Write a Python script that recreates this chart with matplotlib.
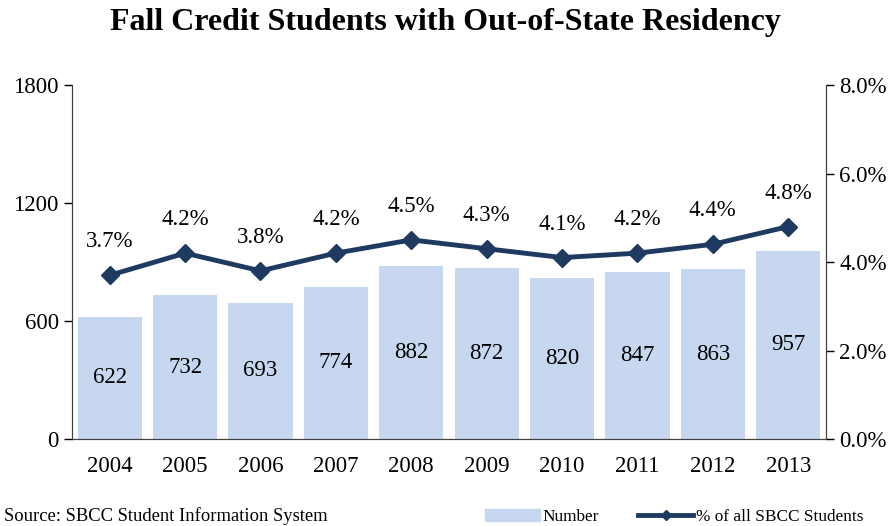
import matplotlib.pyplot as plt
from matplotlib.lines import Line2D
from matplotlib.patches import Patch

years = ["2004", "2005", "2006", "2007", "2008", "2009", "2010", "2011", "2012", "2013"]
counts = [622, 732, 693, 774, 882, 872, 820, 847, 863, 957]
pct = [3.7, 4.2, 3.8, 4.2, 4.5, 4.3, 4.1, 4.2, 4.4, 4.8]

bar_color = "#C6D7EF"
line_color = "#1F3A60"

plt.rcParams["font.family"] = ["Liberation Serif", "DejaVu Serif"]

fig = plt.figure(figsize=(8.91, 5.26), dpi=100)
ax = fig.add_axes([0.0808, 0.1654, 0.8462, 0.673])
ax2 = ax.twinx()

x = range(len(years))
ax.bar(x, counts, width=0.85, color=bar_color, zorder=1)
for i, v in enumerate(counts):
    ax.text(i, v / 2, str(v), ha="center", va="center", fontsize=16.5)

ax.set_ylim(0, 1800)
ax.set_yticks([0, 600, 1200, 1800])
ax.set_xlim(-0.5, len(years) - 0.5)
ax.set_xticks(list(x))
ax.set_xticklabels(years)
ax.tick_params(axis="both", labelsize=16.5, direction="out", length=6, width=1)
ax.tick_params(axis="x", length=0, pad=12)

ax2.plot(list(x), pct, color=line_color, lw=3.5, marker="D", ms=9, zorder=3)
for i, p in enumerate(pct):
    ax2.annotate(f"{p:.1f}%", (i, p), xytext=(0, 24), textcoords="offset points",
                 ha="center", va="center", fontsize=16.5)
ax2.set_ylim(0, 8)
ax2.set_yticks([0, 2, 4, 6, 8])
ax2.set_yticklabels([f"{t:.1f}%" for t in [0, 2, 4, 6, 8]])
ax2.tick_params(axis="y", labelsize=16.5, direction="out", length=6, width=1)

for a in (ax, ax2):
    a.spines["top"].set_visible(False)
    for s in a.spines.values():
        s.set_color("#404040")

fig.text(0.5, 0.958, "Fall Credit Students with Out-of-State Residency",
         ha="center", va="center", fontsize=23, fontweight="bold")
fig.text(0.004, 0.018, "Source: SBCC Student Information System", ha="left", va="center", fontsize=13.4)

handles = [Patch(color=bar_color), Line2D([0], [0], color=line_color, lw=3.5, marker="D", ms=5)]
fig.legend(handles, ["Number", "% of all SBCC Students"], loc="center right",
           bbox_to_anchor=(0.969, 0.018), ncol=2, frameon=False, fontsize=12.4,
           handlelength=3.2, columnspacing=2.3, handletextpad=0.15, borderpad=0,
           borderaxespad=0)

fig.savefig("out.png", dpi=100)
